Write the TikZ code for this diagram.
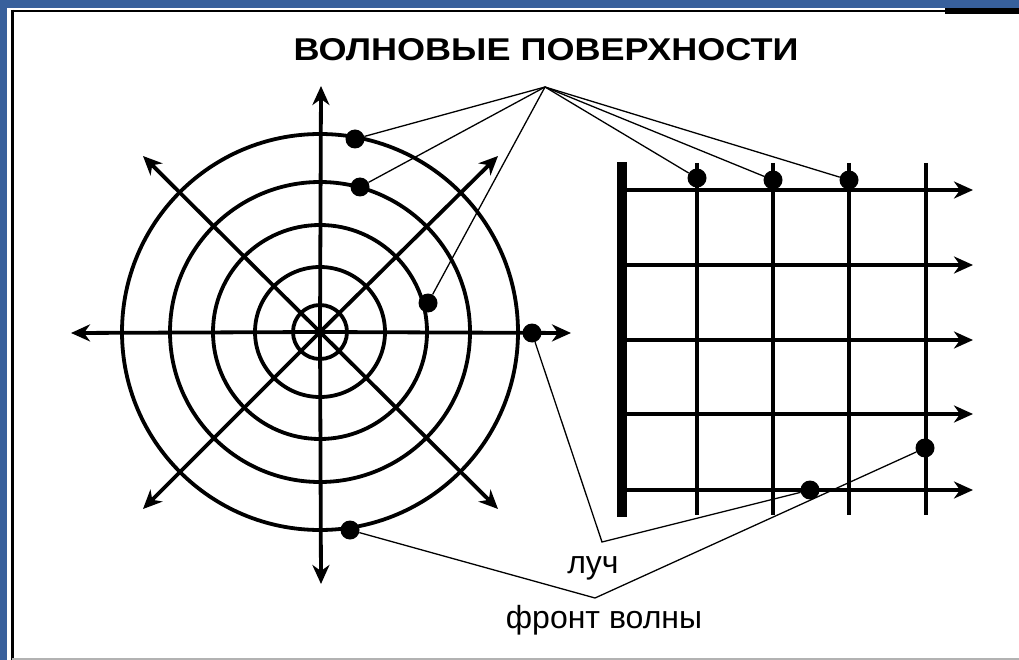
\documentclass[tikz,border=0pt]{standalone}
\usepackage{fontspec}
\usepackage{graphicx}
\setmainfont{Liberation Sans}
\usetikzlibrary{arrows.meta}
\definecolor{frameblue}{RGB}{56,96,156}
\begin{document}
\begin{tikzpicture}[x=1pt,y=-1pt,
  tipA/.tip={Stealth[length=19pt,width=17pt,inset=6pt]},
  axisline/.style={line width=3.8pt,-tipA},
  ringline/.style={line width=3.8pt},
  rayline/.style={line width=4.8pt,-tipA},
  frontline/.style={line width=4.2pt},
  pointer/.style={line width=1.3pt},
  dot/.style={circle,fill=black,inner sep=0pt,minimum size=19pt},
  labeltext/.style={font=\fontsize{32}{35}\selectfont,inner sep=0pt}
]
\useasboundingbox (0,0) rectangle (1019,660);
% frame
\fill[frameblue] (0,0) rectangle (1019,660);
\fill[white] (7,8) rectangle (1019,660);
\draw[line width=3pt] (12,10) -- (12,660);
\draw[line width=2.5pt] (12,11) -- (945,11);
\fill[black] (945,8) rectangle (1019,14);
\draw[gray!60,line width=2pt] (12,659) -- (1019,659);

% title
\node[inner sep=0pt] (title) at (546,50) {\resizebox{505pt}{22pt}{\bfseries ВОЛНОВЫЕ ПОВЕРХНОСТИ}};

% circles
\coordinate (c) at (320,332);
\foreach \r in {198,150,107,65,27} \draw[ringline] (c) circle (\r pt);
% axes
\coordinate (aT) at (321,86);
\coordinate (aB) at (321,584);
\coordinate (aL) at (71,333);
\coordinate (aR) at (571,333);
\coordinate (aNE) at (498,156);
\coordinate (aNW) at (143,156);
\coordinate (aSE) at (498,509);
\coordinate (aSW) at (143,509);
\draw[axisline] (c) -- (aT);
\draw[axisline] (c) -- (aB);
\draw[axisline] (c) -- (aL);
\draw[axisline] (c) -- (aR);
\draw[axisline] (c) -- (aNE);
\draw[axisline] (c) -- (aNW);
\draw[axisline] (c) -- (aSE);
\draw[axisline] (c) -- (aSW);

% plane wave grid
\fill[black] (617,162) rectangle (627,517);
\foreach \x in {697,773,849,926} \draw[frontline] (\x,163) -- (\x,515);
\foreach \y in {190,265,340,414,490} \draw[rayline] (624,\y) -- (973,\y);

% pointer apexes
\coordinate (apexT) at (545,87);
\coordinate (apexL) at (602,542);
\coordinate (apexF) at (595,598);

% dots
\node[dot] (d1) at (355,139) {};
\node[dot] (d2) at (360,187) {};
\node[dot] (d3) at (428,303) {};
\node[dot] (d4) at (532,333) {};
\node[dot] (d5) at (350,530) {};
\node[dot] (g1) at (697,178) {};
\node[dot] (g2) at (773,180) {};
\node[dot] (g3) at (849,180) {};
\node[dot] (g4) at (925,448) {};
\node[dot] (g5) at (810,490) {};

% pointers
\foreach \n in {d1,d2,d3,g1,g2,g3} \draw[pointer] (apexT) -- (\n);
\draw[pointer] (d4) -- (apexL) -- (g5);
\draw[pointer] (d5) -- (apexF) -- (g4);

% labels
\node[labeltext,anchor=base] (luch) at (593,573) {луч};
\node[labeltext,anchor=base] (front) at (604,628) {фронт волны};
\end{tikzpicture}
\end{document}
